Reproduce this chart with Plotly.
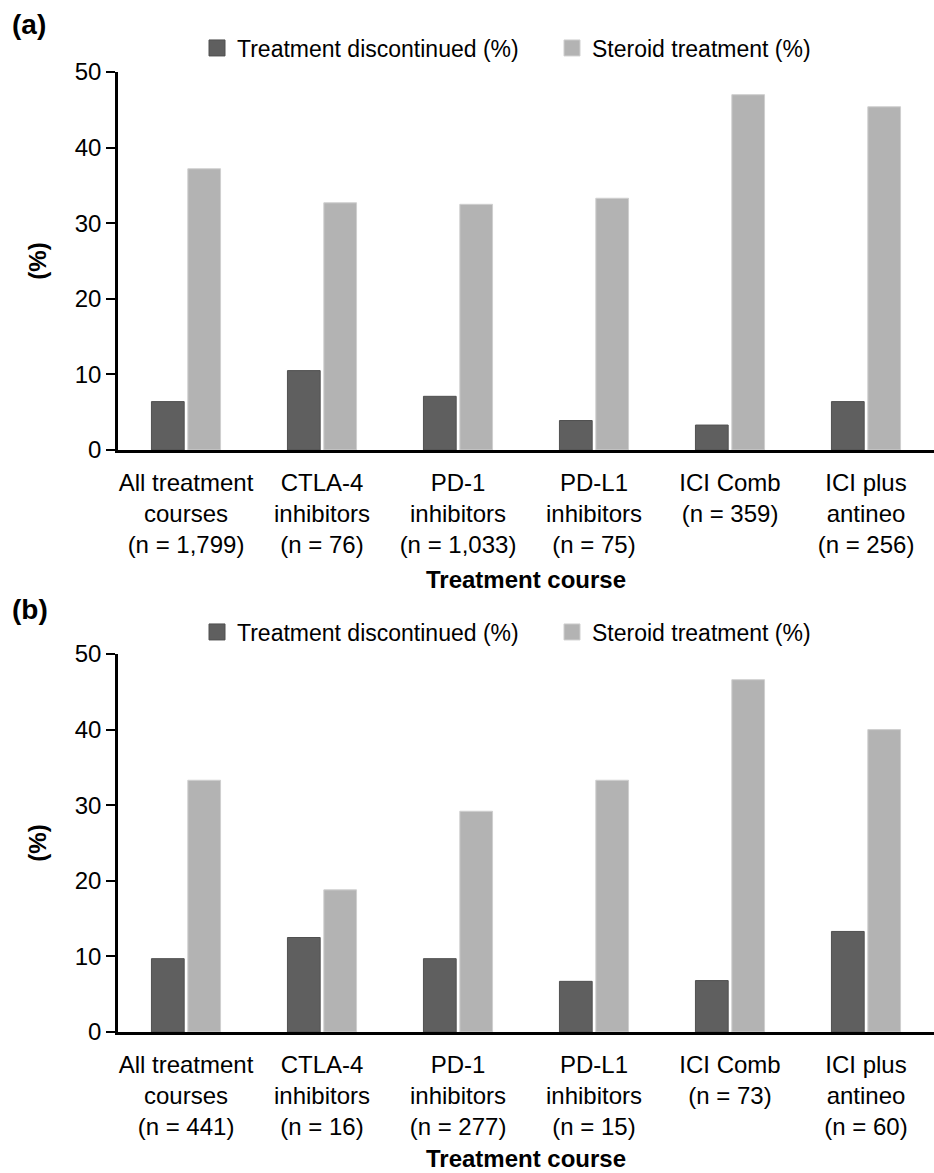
import plotly.graph_objects as go

# ---------------- data ----------------
categories_a = [
    "All treatment<br>courses<br>(n = 1,799)",
    "CTLA-4<br>inhibitors<br>(n = 76)",
    "PD-1<br>inhibitors<br>(n = 1,033)",
    "PD-L1<br>inhibitors<br>(n = 75)",
    "ICI Comb<br>(n = 359)",
    "ICI plus<br>antineo<br>(n = 256)",
]
discontinued_a = [6.4, 10.5, 7.1, 3.9, 3.3, 6.4]
steroid_a = [37.2, 32.7, 32.5, 33.3, 47.0, 45.4]

categories_b = [
    "All treatment<br>courses<br>(n = 441)",
    "CTLA-4<br>inhibitors<br>(n = 16)",
    "PD-1<br>inhibitors<br>(n = 277)",
    "PD-L1<br>inhibitors<br>(n = 15)",
    "ICI Comb<br>(n = 73)",
    "ICI plus<br>antineo<br>(n = 60)",
]
discontinued_b = [9.7, 12.5, 9.7, 6.7, 6.8, 13.3]
steroid_b = [33.3, 18.8, 29.2, 33.3, 46.6, 40.0]

series_names = ["Treatment discontinued (%)", "Steroid treatment (%)"]
y_ticks = [0, 10, 20, 30, 40, 50]

# ---------------- styling ----------------
W, H = 934, 1173
DARK, LIGHT = "#5f5f5f", "#b3b3b3"
DARK_EDGE, LIGHT_EDGE = "#505050", "#cfcfcf"
FONT = "Liberation Sans, Arial, sans-serif"

def py(px):  # pixel-from-top to paper fraction
    return 1 - px / H

fig = go.Figure()

panels = [
    ("x", "y", "legend", categories_a, discontinued_a, steroid_a),
    ("x2", "y2", "legend2", categories_b, discontinued_b, steroid_b),
]
for xa, ya, lg, cats, disc, ster in panels:
    fig.add_trace(go.Bar(x=cats, y=disc, xaxis=xa, yaxis=ya, name=series_names[0],
                         marker=dict(color=DARK, line=dict(color=DARK_EDGE, width=1)),
                         showlegend=False, hoverinfo="x+y"))
    fig.add_trace(go.Bar(x=cats, y=ster, xaxis=xa, yaxis=ya, name=series_names[1],
                         marker=dict(color=LIGHT, line=dict(color=LIGHT_EDGE, width=1)),
                         showlegend=False, hoverinfo="x+y"))
    # legend entries
    for nm, col, ec in [(series_names[0], DARK, DARK_EDGE), (series_names[1], LIGHT, LIGHT_EDGE)]:
        fig.add_trace(go.Scatter(x=[None], y=[None], xaxis=xa, yaxis=ya, mode="markers",
                                 name=nm, legend=lg,
                                 marker=dict(symbol="square", size=19, color=col,
                                             line=dict(color=ec, width=1))))

def xaxis_cfg(standoff):
    return dict(
        type="category", range=[-0.5, 5.5], showline=True, linecolor="black", linewidth=2.5,
        ticks="", showgrid=False, zeroline=False, ticklabelstandoff=9,
        tickfont=dict(family=FONT, size=24, color="black"),
        title=dict(text="Treatment course",
                   font=dict(family=FONT, size=24, color="black", weight="bold"),
                   standoff=standoff),
        automargin=False,
    )

yaxis_common = dict(
    range=[0, 50], tickvals=y_ticks, showline=True, linecolor="black", linewidth=2.5,
    ticks="outside", ticklen=9, tickwidth=2, tickcolor="black", showgrid=False, zeroline=False,
    tickfont=dict(family=FONT, size=24, color="black"),
    title=dict(text="(%)", font=dict(family=FONT, size=24, color="black", weight="bold"),
               standoff=22),
    automargin=False,
)

x0 = 118 / W
legend_common = dict(orientation="h", x=197 / W, xanchor="left", yanchor="middle",
                     font=dict(family=FONT, size=23, color="black"), entrywidth=310,
                     bgcolor="rgba(0,0,0,0)")
fig.update_layout(
    width=W, height=H,
    margin=dict(l=0, r=0, t=0, b=0),
    paper_bgcolor="white", plot_bgcolor="white",
    barmode="group", bargap=0.465, bargroupgap=0.1,
    font=dict(family=FONT, color="black"),
    xaxis=dict(xaxis_cfg(15), domain=[x0, 1], anchor="y"),
    yaxis=dict(yaxis_common, domain=[py(450), py(72)], anchor="x"),
    xaxis2=dict(xaxis_cfg(12), domain=[x0, 1], anchor="y2"),
    yaxis2=dict(yaxis_common, domain=[py(1032), py(654)], anchor="x2"),
    legend=dict(legend_common, y=py(48)),
    legend2=dict(legend_common, y=py(632)),
    annotations=[
        dict(text="(a)", x=10 / W, y=py(25), xref="paper", yref="paper", xanchor="left",
             yanchor="middle", showarrow=False,
             font=dict(family=FONT, size=28, color="black", weight="bold")),
        dict(text="(b)", x=10 / W, y=py(609), xref="paper", yref="paper", xanchor="left",
             yanchor="middle", showarrow=False,
             font=dict(family=FONT, size=28, color="black", weight="bold")),
    ],
)

fig.write_html("out.html", config={"displayModeBar": False},
               post_script="document.body.style.margin='0';")
